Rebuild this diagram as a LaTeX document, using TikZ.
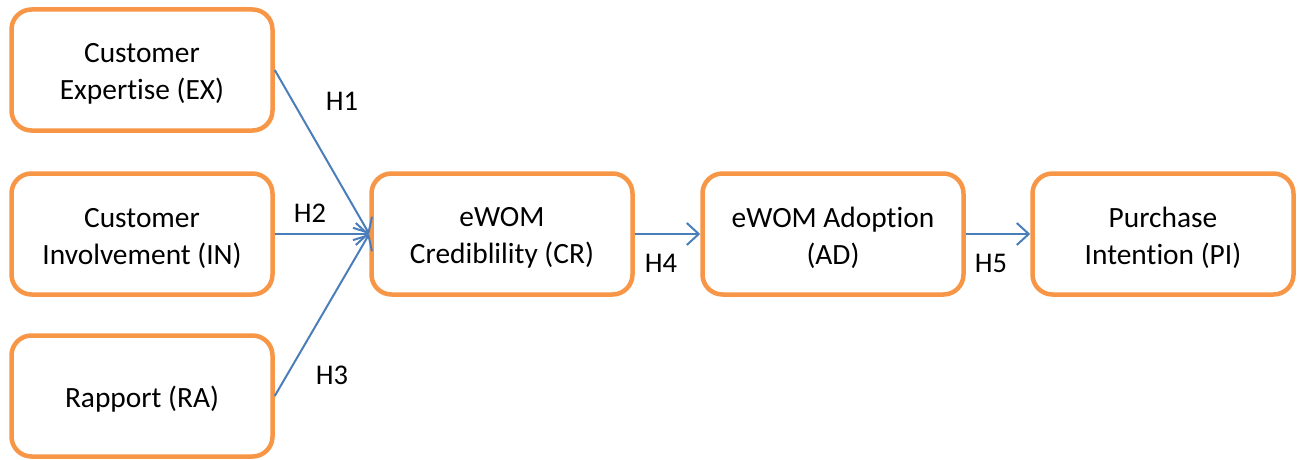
\documentclass[tikz,border=0pt]{standalone}
\usepackage{fontspec}
\setmainfont[Ligatures=NoCommon]{Carlito}
\usetikzlibrary{arrows.meta}
\definecolor{boxorange}{RGB}{247,150,70}
\definecolor{arrowblue}{RGB}{74,126,187}
\begin{document}
\begin{tikzpicture}[x=1pt,y=-1pt,
  box/.style={draw=boxorange,line width=4.5pt,rounded corners=20pt,fill=white,
    minimum width=261pt,minimum height=121pt,inner sep=0pt},
  txt/.style={align=center,inner sep=0pt,font=\fontsize{29.4}{37}\selectfont},
  conn/.style={draw=arrowblue,line width=2pt,-{Straight Barb[length=12pt,width=22pt,line width=2pt]}},
  lab/.style={font=\fontsize{28.5}{32}\selectfont,inner sep=0pt}]
\useasboundingbox (0,0) rectangle (1299,460);
\node[box] (ex) at (142,70) {};
\node[box] (in) at (142,234) {};
\node[box] (ra) at (142,396) {};
\node[box] (cr) at (502,234) {};
\node[box] (ad) at (833,234) {};
\node[box] (pi) at (1163,234) {};
\node[txt] (ext) at (142,74) {Customer\\Expertise (EX)};
\node[txt] (int) at (142,238) {Customer\\Involvement (IN)};
\node[txt] (rat) at (142,399) {Rapport (RA)};
\node[txt] (crt) at (502,238) {eWOM\\Crediblility (CR)};
\node[txt] (adt) at (833,238) {eWOM Adoption\\(AD)};
\node[txt] (pit) at (1163,238) {Purchase\\Intention (PI)};
\draw[conn] (ex.east) -- (cr.west);
\draw[conn] (in.east) -- (cr.west);
\draw[conn] (ra.east) -- (cr.west);
\draw[conn] (cr.east) -- (ad.west);
\draw[conn] (ad.east) -- (pi.west);
\node[lab] (h1) at (342,101) {H1};
\node[lab] (h2) at (310,213) {H2};
\node[lab] (h3) at (332,375) {H3};
\node[lab] (h4) at (661,263) {H4};
\node[lab] (h5) at (991,263) {H5};
\end{tikzpicture}
\end{document}
